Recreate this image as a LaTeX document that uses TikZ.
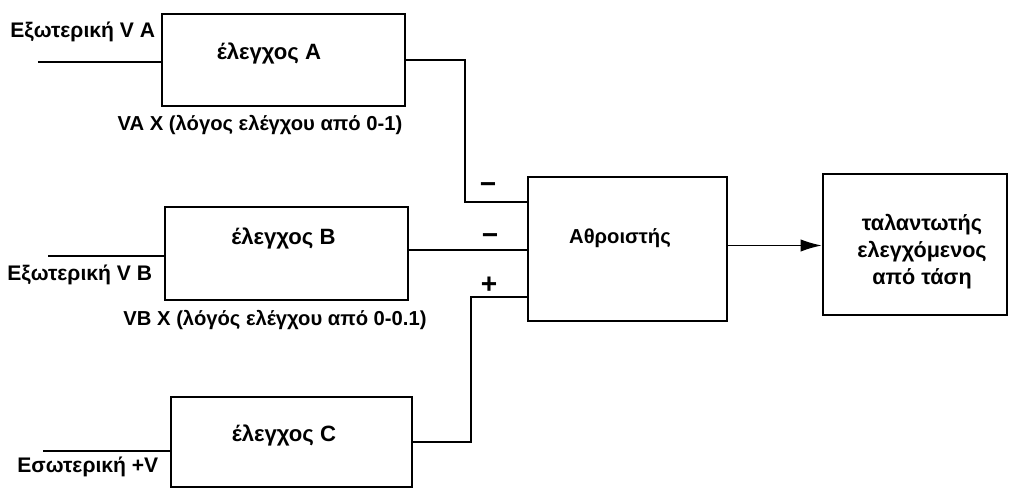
\documentclass[tikz,border=0pt]{standalone}
\usepackage{fontspec}
\setmainfont{Liberation Sans}
\usepackage{tikz}
\usetikzlibrary{positioning,arrows.meta}

\begin{document}
\begin{tikzpicture}[
    block/.style={draw,line width=1.4pt,inner sep=0pt},
    txt/.style={font=\fontsize{11.5}{15.4}\selectfont\bfseries,inner sep=0pt},
    btxt/.style={font=\fontsize{12.6}{15.4}\selectfont\bfseries,inner sep=0pt},
    sgn/.style={font=\fontsize{16}{16}\selectfont\bfseries,inner sep=0pt},
    wire/.style={line width=0.8pt}
  ]
    \useasboundingbox (0,0) rectangle (20.22,9.80);

    % blocks
    \node[block,minimum width=4.86cm,minimum height=1.84cm] (A) at (5.67,8.60) {};
    \node[block,minimum width=4.86cm,minimum height=1.86cm] (B) at (5.73,4.73) {};
    \node[block,minimum width=4.82cm,minimum height=1.80cm] (C) at (5.83,0.96) {};
    \node[block,minimum width=3.98cm,minimum height=2.88cm] (S) at (12.55,4.82) {};
    \node[block,minimum width=3.68cm,minimum height=2.82cm] (O) at (18.30,4.91) {};

    \node[btxt] (tA) at (5.38,8.74) {έλεγχος A};
    \node[btxt] (tB) at (5.67,5.04) {έλεγχος B};
    \node[btxt] (tC) at (5.68,1.10) {έλεγχος C};
    \node[txt] (tS) at (12.40,5.04) {Αθροιστής};
    \node[txt,font=\fontsize{12.3}{15.4}\selectfont\bfseries,align=center] (tO) at (18.44,4.76) {ταλαντωτής\\ελεγχόμενος\\από τάση};

    % labels
    \node[txt,font=\fontsize{12}{15.4}\selectfont\bfseries,anchor=west] (lA) at (0.20,9.16) {Εξωτερική V A};
    \node[txt] (lVA) at (5.20,7.30) {VA X (λόγος ελέγχου από 0-1)};
    \node[txt,font=\fontsize{12}{15.4}\selectfont\bfseries,anchor=west] (lB) at (0.14,4.30) {Εξωτερική V B};
    \node[txt] (lVB) at (5.50,3.40) {VB X (λόγός ελέγχου από 0-0.1)};
    \node[txt,font=\fontsize{12}{15.4}\selectfont\bfseries,anchor=west] (lC) at (0.34,0.46) {Εσωτερική +V};

    \node[sgn] (m1) at (9.76,6.04) {−};
    \node[sgn] (m2) at (9.80,5.02) {−};
    \node[sgn] (p1) at (9.78,4.10) {+};

    % inputs
    \coordinate (inA) at (0.76,8.56);
    \coordinate (inB) at (0.96,4.68);
    \coordinate (inC) at (0.86,0.78);
    \draw[wire] (inA) -- (inA -| A.west);
    \draw[wire] (inB) -- (inB -| B.west);
    \draw[wire] (inC) -- (inC -| C.west);

    % to the summer
    \coordinate (jA) at (9.30,5.76);
    \coordinate (jC) at (9.42,3.86);
    \draw[wire] (A.east) -| (jA) -- (jA -| S.west);
    \draw[wire] ([yshift=2pt]B.east) -- ([yshift=2pt]B.east -| S.west);
    \draw[wire] (C.east) -| (jC) -- (jC -| S.west);

    \draw[wire,-{Latex[length=12pt,width=7pt]}] ([yshift=2pt]S.east) -- ([yshift=2pt]S.east -| O.west);
  \end{tikzpicture}
\end{document}
